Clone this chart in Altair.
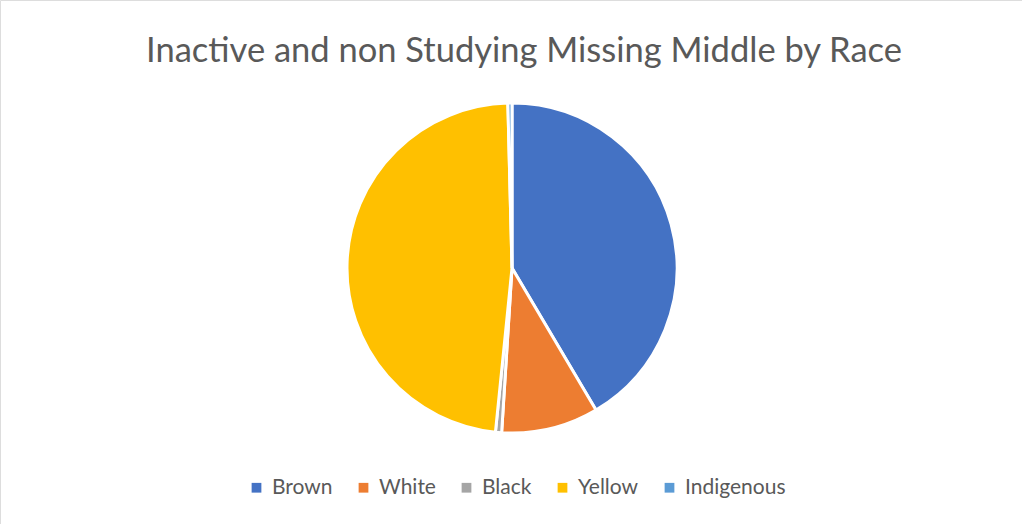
import altair as alt
import pandas as pd

categories = ["Brown", "White", "Black", "Yellow", "Indigenous"]
shares = [41.5, 9.5, 0.6, 48.0, 0.4]
colors = ["#4472C4", "#ED7D31", "#A5A5A5", "#FFC000", "#5B9BD5"]
title_text = "Inactive and non Studying Missing Middle by Race"

df = pd.DataFrame({"race": categories, "share": shares, "order": list(range(len(categories)))})

pie = alt.Chart(df).mark_arc(outerRadius=165, stroke="white", strokeWidth=3).encode(
    theta=alt.Theta("share:Q", stack=True),
    order=alt.Order("order:Q"),
    color=alt.Color(
        "race:N",
        scale=alt.Scale(domain=categories, range=colors),
        sort=categories,
        legend=alt.Legend(
            title=None,
            orient="none",
            legendX=246,
            legendY=477,
            direction="horizontal",
            symbolType="square",
            symbolSize=95,
            symbolStrokeWidth=0,
            labelFontSize=21,
            labelFont="Lato",
            labelColor="#595959",
            columnPadding=20,
            labelOffset=5,
        ),
    ),
    x=alt.value(512),
    y=alt.value(268),
)

title = alt.Chart(pd.DataFrame({"t": [title_text]})).mark_text(
    fontSize=34.5, font="Lato", color="#595959", align="center", baseline="middle"
).encode(text="t:N", x=alt.value(524), y=alt.value(52))

chart = alt.layer(pie, title).properties(
    width=1022, height=524, autosize=alt.AutoSizeParams(type="none"), padding=0
).configure_view(stroke="#D9D9D9", strokeWidth=1).configure(background="white")

chart.save("out.html", embed_options={"renderer": "svg", "actions": False})
